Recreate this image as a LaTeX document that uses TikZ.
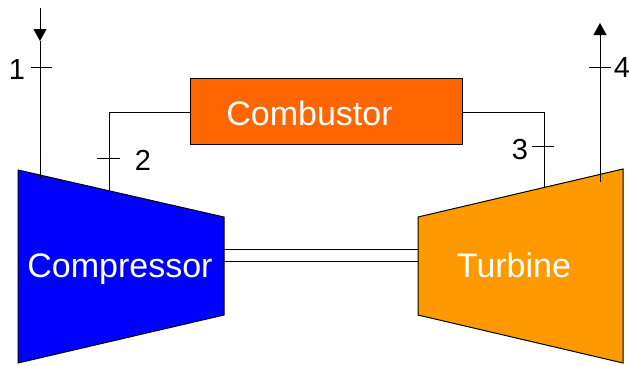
\documentclass[tikz,border=0pt]{standalone}
\usepackage{fontspec}
\setmainfont{Liberation Sans}
\usetikzlibrary{arrows.meta}
\definecolor{compblue}{HTML}{0000FF}
\definecolor{turbor}{HTML}{FF9900}
\definecolor{combor}{HTML}{FF6600}
\begin{document}
\begin{tikzpicture}[x=1pt,y=-1pt,
  pipe/.style={draw=black,line width=1pt},
  machine/.style={draw=black,line width=1pt,line join=miter},
  bigtext/.style={text=white,font=\fontsize{34}{40}\selectfont,inner sep=0pt,anchor=base},
  statenum/.style={text=black,font=\fontsize{29}{34}\selectfont,inner sep=0pt,anchor=base},
  flowtip/.style={-{Triangle[width=13pt,length=12pt]}}]
\useasboundingbox (0,0) rectangle (629,365);

% compressor (converging) and turbine (diverging)
\path[machine,fill=compblue] (18,170) coordinate (ctl) -- (224,217) coordinate (ctr)
  -- (224,315) coordinate (cbr) -- (18,363) coordinate (cbl) -- cycle;
\path[machine,fill=turbor] (418,217) coordinate (ttl) -- (623,169) coordinate (ttr)
  -- (623,363) coordinate (tbr) -- (418,315) coordinate (tbl) -- cycle;

% combustor
\node[draw=black,line width=1pt,fill=combor,minimum width=272pt,minimum height=66pt,
  inner sep=0pt] (comb) at (326,111) {};

% labels
\node[bigtext] (comptext) at (120,277) {Compressor};
\node[bigtext] (turbtext) at (514,277) {Turbine};
\node[bigtext] (combtext) at (309.5,125) {Combustor};

% shaft
\coordinate (sa1) at (224,249); \coordinate (sb1) at (418,249);
\coordinate (sa2) at (224,261); \coordinate (sb2) at (418,261);
\draw[pipe] (sa1) -- (sb1);
\draw[pipe] (sa2) -- (sb2);

% inlet 1
\coordinate (in0) at (40,8);
\coordinate (in1) at (40,41);
\coordinate (in2) at (40,179);
\draw[pipe,flowtip] (in0) -- (in1);
\draw[pipe] (in1) -- (in2);
\draw[pipe] (31,67) -- (52,67);
\node[statenum] (s1) at (17,79) {1};

% compressor to combustor 2
\coordinate (c2a) at (109,191);
\coordinate (c2b) at (109,112);
\draw[pipe] (c2a) -- (c2b) -- (comb.west |- c2b);
\draw[pipe] (97,158) -- (120,158);
\node[statenum] (s2) at (143,170) {2};

% combustor to turbine 3
\coordinate (c3a) at (462,112);
\coordinate (c3b) at (544,112);
\coordinate (c3c) at (544,188);
\draw[pipe] (comb.east |- c3a) -- (c3b) -- (c3c);
\draw[pipe] (532,146) -- (554,146);
\node[statenum] (s3) at (520,159) {3};

% exhaust 4
\coordinate (ex0) at (600,182);
\coordinate (ex1) at (600,23);
\draw[pipe,flowtip] (ex0) -- (ex1);
\draw[pipe] (589,67) -- (611,67);
\node[statenum] (s4) at (622,77) {4};
\end{tikzpicture}
\end{document}
